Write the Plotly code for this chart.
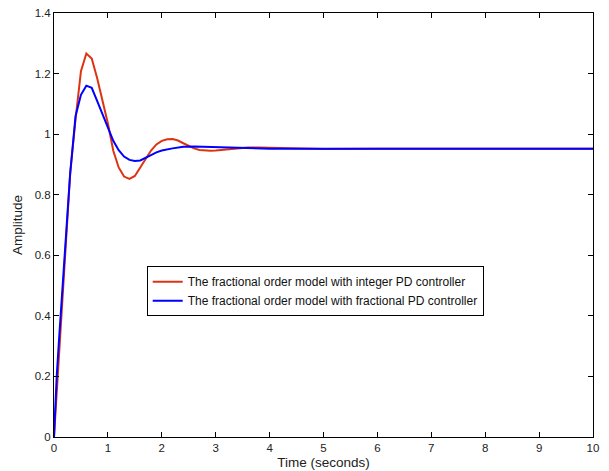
import plotly.graph_objects as go

t_red = [0, 0.1, 0.2, 0.3, 0.4, 0.5, 0.6, 0.7, 0.8, 0.9, 1.0, 1.1, 1.2, 1.3, 1.4, 1.5, 1.6, 1.7, 1.8, 1.9,
         2.0, 2.1, 2.2, 2.3, 2.4, 2.5, 2.6, 2.7, 2.8, 2.9, 3.0, 3.2, 3.4, 3.6, 3.8, 4.0, 4.5, 5.0, 6.0, 7.0, 8.0, 9.0, 10.0]
y_red = [0, 0.30, 0.58, 0.87, 1.05, 1.208, 1.266, 1.25, 1.185, 1.11, 1.035, 0.945, 0.89, 0.86, 0.852, 0.862, 0.888, 0.918, 0.946, 0.966,
         0.978, 0.983, 0.984, 0.979, 0.970, 0.961, 0.953, 0.948, 0.946, 0.945, 0.946, 0.950, 0.954, 0.956, 0.956, 0.955, 0.952, 0.951, 0.952, 0.952, 0.952, 0.952, 0.952]

t_blue = [0, 0.05, 0.1, 0.2, 0.3, 0.4, 0.5, 0.6, 0.7, 0.8, 0.9, 1.0, 1.1, 1.2, 1.3, 1.4, 1.5, 1.6, 1.7, 1.8, 1.9,
          2.0, 2.2, 2.4, 2.6, 2.8, 3.0, 3.5, 4.0, 5.0, 6.0, 7.0, 8.0, 9.0, 10.0]
y_blue = [0, 0.20, 0.34, 0.62, 0.87, 1.06, 1.13, 1.16, 1.153, 1.11, 1.068, 1.025, 0.978, 0.947, 0.926, 0.915, 0.911, 0.913, 0.921, 0.931, 0.940,
          0.946, 0.953, 0.958, 0.959, 0.958, 0.956, 0.953, 0.952, 0.952, 0.952, 0.952, 0.952, 0.952, 0.952]

x_ticks = list(range(0, 11))
y_ticks = [0, 0.2, 0.4, 0.6, 0.8, 1.0, 1.2, 1.4]
y_tick_labels = ["0", "0.2", "0.4", "0.6", "0.8", "1", "1.2", "1.4"]

names = ["The fractional order model with integer PD controller",
         "The fractional order model with fractional PD controller"]

fig = go.Figure()
fig.add_trace(go.Scatter(x=t_red, y=y_red, mode="lines", name=names[0],
                         line=dict(color="#DD3311", width=2)))
fig.add_trace(go.Scatter(x=t_blue, y=y_blue, mode="lines", name=names[1],
                         line=dict(color="#0000FF", width=2)))

axis_common = dict(showgrid=False, zeroline=False, showline=True, linecolor="black", linewidth=1,
                   mirror="ticks", ticks="inside", ticklen=5, tickcolor="black", automargin=False,
                   tickfont=dict(size=11.5, color="#222"))

fig.update_layout(
    width=609, height=471,
    margin=dict(l=54, r=16, t=13, b=34),
    paper_bgcolor="white", plot_bgcolor="white",
    font=dict(family="Liberation Sans, Arial, sans-serif", size=11.5, color="#222"),
    xaxis=dict(range=[0, 10], tickvals=x_ticks,
               title=dict(text="Time (seconds)", standoff=4, font=dict(size=13.5)), **axis_common),
    yaxis=dict(range=[0, 1.4], tickvals=y_ticks, ticktext=y_tick_labels,
               title=dict(text="Amplitude", standoff=8, font=dict(size=13.5)), **axis_common),
    legend=dict(x=0.172, y=0.403, xanchor="left", yanchor="top",
                bgcolor="white", bordercolor="black", borderwidth=1,
                font=dict(size=12, color="#111"), tracegroupgap=0, itemwidth=30),
    showlegend=True,
)

fig.write_html("out.html")
